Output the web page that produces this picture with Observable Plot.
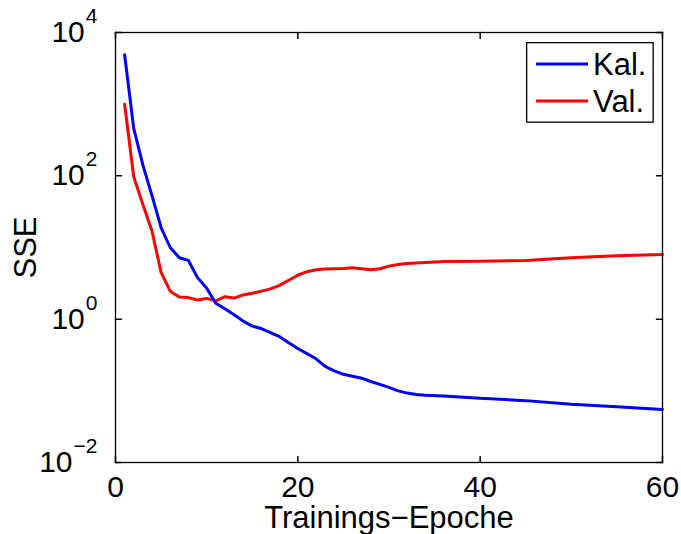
<!DOCTYPE html>
<html>
<head>
<meta charset="utf-8">
<script src="https://cdn.jsdelivr.net/npm/d3@7"></script>
<script src="https://cdn.jsdelivr.net/npm/@observablehq/plot@0.6"></script>
<style>
  html, body { margin: 0; padding: 0; background: #fff; }
  #wrap { position: relative; width: 681px; height: 534px; font-family: "Liberation Sans", Arial, Helvetica, sans-serif; }
  #legend { position: absolute; left: 526px; top: 42px; }
</style>
</head>
<body>
<div id="wrap"></div>
<script>
// ---- data ----
const kalEpoch = [1,2,3,4,5,6,7,8,9,10,11,12,13,14,15,16,17,18,19,20,21,22,23,24,25,26,27,28,29,30,31,32,33,34,36,40,45,50,55,60];
const kalSSE   = [4900,460,142,53,19,10,7.2,6.6,3.8,2.7,1.67,1.4,1.15,0.94,0.8,0.74,0.65,0.57,0.47,0.39,0.33,0.28,0.22,0.19,0.17,0.16,0.15,0.135,0.123,0.112,0.1,0.093,0.089,0.087,0.085,0.079,0.073,0.065,0.060,0.055];
const valEpoch = [1,2,3,4,5,6,7,8,9,10,11,12,13,14,15,16,17,18,19,20,21,22,23,24,25,26,27,28,29,30,31,32,34,36,40,45,50,55,60];
const valSSE   = [1000,97,40,17,4.5,2.46,2.04,2.0,1.85,1.95,1.8,2.06,1.97,2.18,2.3,2.46,2.65,2.96,3.49,4.1,4.6,4.9,5.0,5.07,5.1,5.2,5.07,4.9,5.05,5.5,5.8,6.0,6.2,6.4,6.45,6.6,7.2,7.7,8.0];
const xTicks = [0, 20, 40, 60];
const yTicks = [0.01, 1, 100, 10000];
const seriesNames = ["Kal.", "Val."];
const seriesColors = ["#0000ff", "#ff0000"];
const xLabel = "Trainings\u2212Epoche";
const yLabel = "SSE";

const kal = kalEpoch.map((e, i) => ({epoch: e, sse: kalSSE[i]}));
const val = valEpoch.map((e, i) => ({epoch: e, sse: valSSE[i]}));

const tickShape = {draw(context, l) { context.moveTo(0, 0); context.lineTo(0, -l); }};
const font = "Liberation Sans, Arial, Helvetica, sans-serif";

const chart = Plot.plot({
  width: 681,
  height: 534,
  marginLeft: 115,
  marginRight: 19,
  marginTop: 32,
  marginBottom: 72,
  style: {fontFamily: font, fontSize: "30px", color: "black", background: "white"},
  x: {domain: [0, 60]},
  y: {type: "log", domain: [0.01, 10000]},
  marks: [
    Plot.line(val, {x: "epoch", y: "sse", stroke: seriesColors[1], strokeWidth: 3}),
    Plot.line(kal, {x: "epoch", y: "sse", stroke: seriesColors[0], strokeWidth: 3}),
    Plot.frame({stroke: "black", strokeWidth: 1.3}),
    // inward ticks on all four sides
    Plot.vector(xTicks, {x: d => d, frameAnchor: "bottom", length: 6, rotate: 0, anchor: "start", shape: tickShape, stroke: "black"}),
    Plot.vector(xTicks, {x: d => d, frameAnchor: "top", length: 6, rotate: 180, anchor: "start", shape: tickShape, stroke: "black"}),
    Plot.vector(yTicks, {y: d => d, frameAnchor: "left", length: 6, rotate: 90, anchor: "start", shape: tickShape, stroke: "black"}),
    Plot.vector(yTicks, {y: d => d, frameAnchor: "right", length: 6, rotate: -90, anchor: "start", shape: tickShape, stroke: "black"}),
    Plot.axisX(xTicks, {tickSize: 0, tickPadding: 13, label: null}),
    Plot.axisY(yTicks, {tickSize: 0, tickPadding: 18, label: null, tickFormat: d => "10^" + Math.round(Math.log10(d))}),
    Plot.text([xLabel], {frameAnchor: "bottom", lineAnchor: "middle", textAnchor: "middle", dy: 56, fontSize: 31}),
    Plot.text([yLabel], {frameAnchor: "left", lineAnchor: "middle", textAnchor: "middle", dx: -89, rotate: -90, fontSize: 31})
  ]
});

// tick label sizes
d3.select(chart).selectAll('g[aria-label="x-axis tick label"] text').attr("font-size", 30).style("font-size", "30px");
// superscript exponents
d3.select(chart).selectAll('g[aria-label="y-axis tick label"] text').each(function() {
  const t = d3.select(this);
  t.attr("font-size", 30).style("font-size", "30px");
  const s = t.text();
  const parts = s.split("^");
  if (parts.length === 2) {
    t.text("10");
    t.append("tspan").attr("dx", 1).attr("dy", -19).style("font-size", "21px").text(parts[1].replace("-", "\u2212"));
  }
});

const wrap = document.getElementById("wrap");
wrap.appendChild(chart);

// legend (overlay, matching MATLAB boxed legend)
const lg = d3.select(wrap).append("svg").attr("id", "legend").attr("width", 128).attr("height", 81);
lg.append("rect").attr("x", 0.65).attr("y", 0.65).attr("width", 126.5).attr("height", 79.5)
  .attr("fill", "white").attr("stroke", "black").attr("stroke-width", 1.3);
seriesNames.forEach((name, i) => {
  const cy = 22 + i * 37;
  lg.append("line").attr("x1", 10).attr("x2", 62).attr("y1", cy).attr("y2", cy)
    .attr("stroke", seriesColors[i]).attr("stroke-width", 3);
  lg.append("text").attr("x", 67).attr("y", cy).attr("dy", "0.35em")
    .attr("font-family", font).attr("font-size", 31).attr("fill", "black").text(name);
});
</script>
</body>
</html>
